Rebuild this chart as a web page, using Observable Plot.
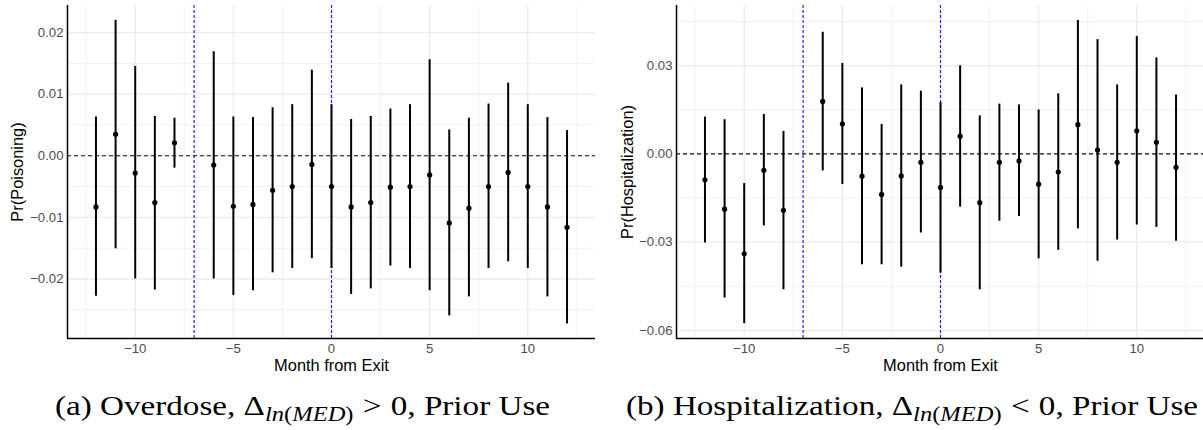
<!DOCTYPE html>
<html>
<head>
<meta charset="utf-8">
<script src="https://cdn.jsdelivr.net/npm/d3@7"></script>
<script src="https://cdn.jsdelivr.net/npm/@observablehq/plot@0.6"></script>
<style>
  html, body { margin: 0; padding: 0; background: #fff; }
  #wrap { position: relative; width: 1203px; height: 430px; overflow: hidden; }
  .panel { position: absolute; top: 0; }
  .panel svg [aria-label="x-axis label"] text,
  .panel svg [aria-label="y-axis label"] text { font-size: 16.4px; fill: #000; }
  .cap { position: absolute; top: 391px; font-family: "Liberation Serif", "DejaVu Serif", serif;
         font-size: 27px; line-height: 30px; color: #000; white-space: nowrap; transform-origin: 0 50%; }
  .cap sub { font-size: 20px; vertical-align: -6px; line-height: 0; }
  .cap .rel { margin: 0 0.28em; }
</style>
</head>
<body>
<div id="wrap">
  <div class="panel" id="pa" style="left:0px"></div>
  <div class="panel" id="pb" style="left:600px"></div>
  <div class="cap" id="capA" data-left="55" data-right="550">(a) Overdose, Δ<sub><i>ln</i>(<i>MED</i>)</sub><span class="rel">&gt;</span>0, Prior Use</div>
  <div class="cap" id="capB" data-left="626" data-right="1198">(b) Hospitalization, Δ<sub><i>ln</i>(<i>MED</i>)</sub><span class="rel">&lt;</span>0, Prior Use</div>
</div>
<script>
// Months (month -7 is the omitted reference period)
const months = [-12, -11, -10, -9, -8, -6, -5, -4, -3, -2, -1, 0, 1, 2, 3, 4, 5, 6, 7, 8, 9, 10, 11, 12];

// Panel (a): Pr(Poisoning)
const aEst = [-0.0083, 0.0035, -0.0028, -0.0076, 0.0021, -0.0015, -0.0082, -0.0079, -0.0056, -0.0050, -0.0014, -0.0050,
              -0.0083, -0.0076, -0.0051, -0.0050, -0.0031, -0.0109, -0.0085, -0.0050, -0.0027, -0.0050, -0.0083, -0.0116];
const aLo  = [-0.0228, -0.0151, -0.0200, -0.0218, -0.0020, -0.0200, -0.0227, -0.0219, -0.0190, -0.0183, -0.0167, -0.0183,
              -0.0225, -0.0216, -0.0179, -0.0183, -0.0219, -0.0260, -0.0229, -0.0183, -0.0172, -0.0183, -0.0229, -0.0273];
const aHi  = [0.0063, 0.0220, 0.0145, 0.0064, 0.0061, 0.0169, 0.0063, 0.0062, 0.0078, 0.0083, 0.0139, 0.0083,
              0.0059, 0.0064, 0.0076, 0.0083, 0.0156, 0.0042, 0.0061, 0.0084, 0.0118, 0.0083, 0.0062, 0.0041];

// Panel (b): Pr(Hospitalization)
const bEst = [-0.0088, -0.0188, -0.0340, -0.0056, -0.0192, 0.0178, 0.0102, -0.0076, -0.0138, -0.0075, -0.0029, -0.0114,
              0.0060, -0.0166, -0.0029, -0.0024, -0.0103, -0.0062, 0.0099, 0.0013, -0.0029, 0.0078, 0.0039, -0.0046];
const bLo  = [-0.0303, -0.0490, -0.0577, -0.0245, -0.0462, -0.0058, -0.0104, -0.0377, -0.0377, -0.0385, -0.0269, -0.0405,
              -0.0181, -0.0462, -0.0229, -0.0213, -0.0357, -0.0328, -0.0255, -0.0365, -0.0293, -0.0242, -0.0250, -0.0297];
const bHi  = [0.0125, 0.0116, -0.0101, 0.0134, 0.0076, 0.0413, 0.0307, 0.0224, 0.0100, 0.0234, 0.0213, 0.0174,
              0.0299, 0.0129, 0.0169, 0.0166, 0.0149, 0.0204, 0.0453, 0.0388, 0.0234, 0.0399, 0.0326, 0.0200];

// Ticks and reference lines
const xTicks = [-10, -5, 0, 5, 10];
const xMinor = [-12.5, -7.5, -2.5, 2.5, 7.5, 12.5];
const aYTicks = [-0.02, -0.01, 0, 0.01, 0.02];
const aYMinor = [-0.025, -0.015, -0.005, 0.005, 0.015];
const bYTicks = [-0.06, -0.03, 0, 0.03];
const bYMinor = [-0.045, -0.015, 0.015, 0.045];
const vLines = [-7, 0];

const xDomain = [-13.45, 13.45];

function panel(est, lo, hi, yDomain, yTicks, yMinor, yLabel, width, marginLeft, marginRight, labelOffset) {
  const data = months.map((m, i) => ({month: m, est: est[i], lo: lo[i], hi: hi[i]}));
  return Plot.plot({
    width, height: 375,
    marginTop: 5, marginBottom: 37, marginLeft, marginRight,
    style: {fontFamily: "'Liberation Sans', Arial, sans-serif", fontSize: "13.2px", color: "#4d4d4d", background: "#fff"},
    x: {domain: xDomain},
    y: {domain: yDomain},
    marks: [
      Plot.gridX(xMinor, {stroke: "#ebebeb", strokeOpacity: 1, strokeWidth: 0.7}),
      Plot.gridX(xTicks, {stroke: "#ebebeb", strokeOpacity: 1, strokeWidth: 1.3}),
      Plot.gridY(yMinor, {stroke: "#ebebeb", strokeOpacity: 1, strokeWidth: 0.7}),
      Plot.gridY(yTicks, {stroke: "#ebebeb", strokeOpacity: 1, strokeWidth: 1.3}),
      Plot.ruleX(vLines, {stroke: "#1f1fff", strokeWidth: 1.2, strokeDasharray: "3,2"}),
      Plot.ruleY([0], {stroke: "#111", strokeWidth: 1.1, strokeDasharray: "4,3"}),
      Plot.ruleX(data, {x: "month", y1: "lo", y2: "hi", stroke: "#000", strokeWidth: 2}),
      Plot.dot(data, {x: "month", y: "est", r: 2.6, fill: "#000", stroke: null}),
      Plot.ruleX([xDomain[0]], {stroke: "#000", strokeWidth: 1.5}),
      Plot.ruleY([yDomain[0]], {stroke: "#000", strokeWidth: 1.5}),
      Plot.axisX({ticks: xTicks, tickSize: 0, tickPadding: 5, tickFormat: d3.format("d"),
                  label: "Month from Exit", labelAnchor: "center", labelArrow: "none", labelOffset: 32}),
      Plot.axisY({ticks: yTicks, tickSize: 0, tickPadding: 4, tickFormat: d3.format(".2f"),
                  label: yLabel, labelAnchor: "center", labelArrow: "none", labelOffset})
    ]
  });
}

document.getElementById("pa").appendChild(
  panel(aEst, aLo, aHi, [-0.02966, 0.0244], aYTicks, aYMinor, "Pr(Poisoning)", 600, 67, 5, 56));
document.getElementById("pb").appendChild(
  panel(bEst, bLo, bHi, [-0.06275, 0.0504], bYTicks, bYMinor, "Pr(Hospitalization)", 603, 76, -1, 55));

// Stretch the serif captions horizontally to the span they occupy in the figure (Computer Modern is wider)
for (const id of ["capA", "capB"]) {
  const el = document.getElementById(id);
  const left = +el.dataset.left, right = +el.dataset.right;
  el.style.left = left + "px";
  const w = el.getBoundingClientRect().width;
  el.style.transform = `scaleX(${(right - left) / w})`;
}
</script>
</body>
</html>
